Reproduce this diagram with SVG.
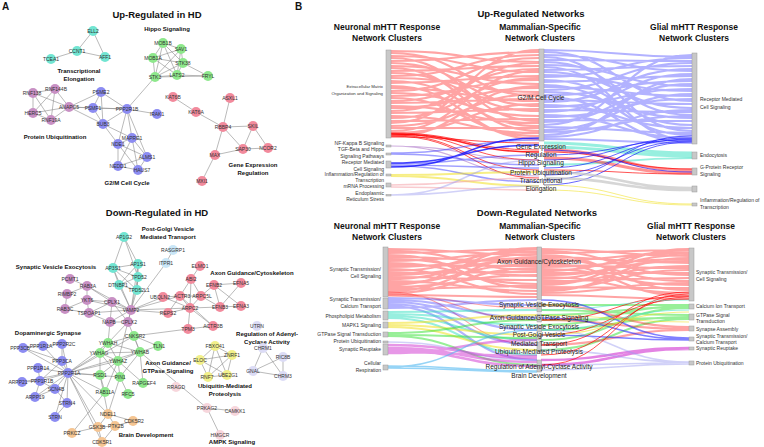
<svg xmlns="http://www.w3.org/2000/svg" width="764" height="447" viewBox="0 0 764 447">
<style>
text{font-family:"Liberation Sans",Arial,sans-serif}
.e{fill:none;stroke:#8c8c8c;stroke-width:.6}
.nl{font-size:5px;fill:#333;text-anchor:middle}
.cl{font-size:6px;font-weight:bold;fill:#111;text-anchor:middle}
.ti{font-size:9.5px;font-weight:bold;fill:#111;text-anchor:middle}
.pl{font-size:10px;font-weight:bold;fill:#111}
.h{font-size:8.5px;font-weight:bold;fill:#111;text-anchor:middle}
.c{fill:#72e5d2}.g{fill:#8ee88c}.p{fill:#c890c4}.b{fill:#8c8cf2}.r{fill:#f28a9c}.o{fill:#f5c592}.y{fill:#f2f08a}.lv{fill:#dcdcf6}.lp{fill:#f7d6dc}.lb{fill:#c9e6f7}
.bar{fill:#c8c8c8;stroke:#9a9a9a;stroke-width:.5}
.sl{font-size:5px;fill:#333;text-anchor:end}
.sr{font-size:5px;fill:#333;text-anchor:start}
.sm{font-size:6.5px;fill:#222;text-anchor:middle}
.fr{fill:none;stroke:#ff1010;stroke-opacity:.38;stroke-width:2.2}
.fb{fill:none;stroke:#2a2aff;stroke-opacity:.36;stroke-width:2.2}
.fR{fill:none;stroke:#ff0000;stroke-opacity:.85;stroke-width:.8}
.fB{fill:none;stroke:#1010ff;stroke-opacity:.8;stroke-width:.8}
.fc{fill:none;stroke:#30dfc0;stroke-opacity:.5;stroke-width:2.2}
.fy{fill:none;stroke:#f0e020;stroke-opacity:.55;stroke-width:2}
.fg{fill:none;stroke:#30e030;stroke-opacity:.5;stroke-width:2}
.fm{fill:none;stroke:#d030d0;stroke-opacity:.5;stroke-width:2.4}
.fl{fill:none;stroke:#50b8f0;stroke-opacity:.6;stroke-width:1.6}
.fv{fill:none;stroke:#9a9af0;stroke-opacity:.45;stroke-width:1.6}
.fp{fill:none;stroke:#a060c0;stroke-opacity:.5;stroke-width:1.2}
.fk{fill:none;stroke:#f4a0a8;stroke-opacity:.55;stroke-width:1.6}
.fq{fill:none;stroke:#c8c8c8;stroke-opacity:.75;stroke-width:2.6}
</style>

<text class="pl" x="2" y="10">A</text>
<text class="pl" x="295" y="10">B</text>
<text class="ti" x="157" y="18">Up-Regulated in HD</text>
<text class="ti" x="157" y="216">Down-Regulated in HD</text>

<g id="connectors">
<path class="e" d="M93,31L77,51M93,31L105,57M77,51L105,57M77,51L51,59
M163,43L181,49M163,43L153,58M163,43L183,63M163,43L155,77M163,43L177,75M181,49L153,58M181,49L155,77M181,49L183,63M181,49L177,75M153,58L183,63M153,58L155,77M153,58L177,75M183,63L155,77M183,63L177,75M183,63L208,76M155,77L177,75M177,75L208,76M155,77L208,76M155,77L127,109
M33,93L55,89M33,93L69,107M33,93L33,113M33,93L51,120M55,89L69,107M55,89L33,113M55,89L51,120M69,107L33,113M69,107L51,120M33,113L51,120
M69,107L101,92M69,107L93,108M69,107L103,124M69,107L127,109
M101,92L93,108M101,92L103,124M101,92L127,109M93,108L103,124M93,108L127,109M103,124L127,109
M127,109L157,114M127,109L132,138M127,109L118,144M127,109L147,157M103,124L132,138M103,124L118,144
M132,138L118,144M132,138L147,157M132,138L118,166M132,138L138,170M118,144L147,157M118,144L118,166M118,144L138,170M147,157L118,166M147,157L138,170M118,166L138,170
M173,97L196,112M196,112L223,127M230,98L223,127M223,127L253,126M223,127L243,149M223,127L215,155M253,126L243,149M253,126L268,148M243,149L268,148M215,155L243,149M215,155L202,181"/>
<path class="e" d="M124,237L113,268M124,237L138,264M124,237L138,277
M113,268L138,264M113,268L138,277M113,268L119,285M113,268L137,290M138,264L138,277M138,264L119,285M138,264L137,290M138,277L119,285M138,277L137,290M119,285L137,290M113,268L131,310M138,277L131,310M137,290L131,310M119,285L131,310M138,264L131,310
M173,250L166,263M166,263L131,310
M70,279L87,286M67,294L87,286M87,286L87,300M87,286L112,302M67,294L65,309M65,309L89,313M65,309L87,300M87,300L89,313M87,300L112,302M89,313L112,302M112,302L131,310M89,313L131,310M87,286L131,310M87,300L131,310M110,322L131,310M128,322L131,310M112,302L128,322M110,322L128,322M112,302L110,322M89,313L110,322
M131,310L163,297M131,310L180,296M131,310L168,313M131,310L190,308
M200,266L191,279M191,279L180,296M191,279L201,296M191,279L190,308M180,296L201,296M180,296L190,308M201,296L190,308M201,296L214,285M214,285L241,283M214,285L241,306M214,285L220,307M220,307L241,283M220,307L241,306M190,308L220,307M201,296L220,307M163,297L180,296M168,313L180,296M168,313L190,308M163,297L190,308M190,308L188,329M190,308L213,326M188,329L213,326M180,296L213,326
M134,336L188,329
M68,373L23,348M68,373L43,346M68,373L62,344M68,373L62,361M68,373L38,368M68,373L22,382M68,373L40,381M68,373L55,389M68,373L67,403M68,373L55,417M68,373L35,397
M23,348L43,346M43,346L62,344M23,348L62,361M62,344L62,361M38,368L40,381M22,382L40,381M40,381L55,389M55,389L35,397M40,381L35,397M55,389L67,403M67,403L55,417M62,361L40,381
M68,373L108,343M68,373L100,353M68,373L118,361M68,373L140,352M68,373L134,336M68,373L100,375M68,373L120,377M68,373L105,392M68,373L98,427M68,373L102,442M68,373L108,414
M110,322L108,343M128,322L108,343M128,322L140,352M131,310L118,361
M108,343L100,353M108,343L118,361M108,343L140,352M108,343L134,336M100,353L118,361M100,353L140,352M118,361L140,352M134,336L140,352M140,352L158,346M134,336L158,346M100,353L100,375M118,361L120,377M140,352L120,377M100,375L105,392M118,361L105,392M120,377L128,394M140,352L143,383M118,361L143,383M100,353L120,377M118,361L100,375
M100,375L108,414M120,377L108,414M105,392L72,433
M108,414L98,427M108,414L115,426M108,414L133,421M98,427L115,426M98,427L102,442M72,433L98,427M115,426L133,421M115,426L102,442
M140,352L207,408M207,408L235,411M207,408L220,435
M215,346L232,355M215,346L200,360M215,346L227,375M215,346L208,377M232,355L200,360M232,355L227,375M232,355L208,377M200,360L227,375M200,360L208,377M227,375L208,377
M263,348L253,371M263,348L283,376M253,371L283,376M283,357L283,376M283,357L253,371"/>
</g>

<g id="up-clusters">
<text class="cl" x="79" y="73">Transcriptional</text>
<text class="cl" x="79" y="81">Elongation</text>
<text class="cl" x="167" y="31">Hippo Signaling</text>
<text class="cl" x="55" y="139">Protein Ubiquitination</text>
<text class="cl" x="127" y="185">G2/M Cell Cycle</text>
<text class="cl" x="253" y="167">Gene Expression</text>
<text class="cl" x="253" y="175">Regulation</text>
</g>
<g id="down-clusters">
<text class="cl" x="168" y="231">Post-Golgi Vesicle</text>
<text class="cl" x="168" y="239">Mediated Transport</text>
<text class="cl" x="56" y="269">Synaptic Vesicle Exocytosis</text>
<text class="cl" x="252" y="275">Axon Guidance/Cytoskeleton</text>
<text class="cl" x="48" y="335">Dopaminergic Synapse</text>
<text class="cl" x="168" y="365">Axon Guidance/</text>
<text class="cl" x="168" y="373">GTPase Signaling</text>
<text class="cl" x="225" y="388">Ubiquitin-Mediated</text>
<text class="cl" x="225" y="396">Proteolysis</text>
<text class="cl" x="267" y="336">Regulation of Adenyl-</text>
<text class="cl" x="267" y="344">Cyclase Activity</text>
<text class="cl" x="146" y="437">Brain Development</text>
<text class="cl" x="232" y="444">AMPK Signaling</text>
</g>

<g id="n-ELL2"><circle class="c" cx="93" cy="31" r="5"/><text class="nl" x="93" y="33">ELL2</text></g>
<g id="n-CCNT1"><circle class="c" cx="77" cy="51" r="5"/><text class="nl" x="77" y="53">CCNT1</text></g>
<g id="n-AFF1"><circle class="c" cx="105" cy="57" r="5"/><text class="nl" x="105" y="59">AFF1</text></g>
<g id="n-TCEA1"><circle class="c" cx="51" cy="59" r="5"/><text class="nl" x="51" y="61">TCEA1</text></g>
<g id="n-MOB1B"><circle class="g" cx="163" cy="43" r="5"/><text class="nl" x="163" y="45">MOB1B</text></g>
<g id="n-SAV1"><circle class="g" cx="181" cy="49" r="5"/><text class="nl" x="181" y="51">SAV1</text></g>
<g id="n-MOB1A"><circle class="g" cx="153" cy="58" r="5"/><text class="nl" x="153" y="60">MOB1A</text></g>
<g id="n-STK38"><circle class="g" cx="183" cy="63" r="5"/><text class="nl" x="183" y="65">STK38</text></g>
<g id="n-LATS2"><circle class="g" cx="177" cy="75" r="5"/><text class="nl" x="177" y="77">LATS2</text></g>
<g id="n-STK3"><circle class="g" cx="155" cy="77" r="5"/><text class="nl" x="155" y="79">STK3</text></g>
<g id="n-FRYL"><circle class="g" cx="208" cy="76" r="5"/><text class="nl" x="208" y="78">FRYL</text></g>
<g id="n-RNF138"><circle class="p" cx="33" cy="93" r="5"/><text class="nl" x="32" y="95">RNF138</text></g>
<g id="n-RNF144B"><circle class="p" cx="55" cy="89" r="5"/><text class="nl" x="56" y="91">RNF144B</text></g>
<g id="n-ANAPC5"><circle class="p" cx="69" cy="107" r="5"/><text class="nl" x="69" y="109">ANAPC5</text></g>
<g id="n-HERC5"><circle class="p" cx="33" cy="113" r="5"/><text class="nl" x="33" y="115">HERC5</text></g>
<g id="n-RNF19A"><circle class="p" cx="51" cy="120" r="5"/><text class="nl" x="51" y="122">RNF19A</text></g>
<g id="n-PSME2"><circle class="b" cx="101" cy="92" r="5"/><text class="nl" x="101" y="94">PSME2</text></g>
<g id="n-PSMF1"><circle class="b" cx="93" cy="108" r="5"/><text class="nl" x="93" y="110">PSMF1</text></g>
<g id="n-PPP2R1B"><circle class="b" cx="127" cy="109" r="5"/><text class="nl" x="127" y="111">PPP2R1B</text></g>
<g id="n-BUB3"><circle class="b" cx="103" cy="124" r="5"/><text class="nl" x="103" y="126">BUB3</text></g>
<g id="n-IRAK1"><circle class="b" cx="157" cy="114" r="5"/><text class="nl" x="157" y="116">IRAK1</text></g>
<g id="n-MAPRE1"><circle class="b" cx="132" cy="138" r="5"/><text class="nl" x="132" y="140">MAPRE1</text></g>
<g id="n-NDE1"><circle class="b" cx="118" cy="144" r="5"/><text class="nl" x="118" y="146">NDE1</text></g>
<g id="n-ALMS1"><circle class="b" cx="147" cy="157" r="5"/><text class="nl" x="147" y="159">ALMS1</text></g>
<g id="n-NEDD1"><circle class="b" cx="118" cy="166" r="5"/><text class="nl" x="118" y="168">NEDD1</text></g>
<g id="n-HAUS7"><circle class="b" cx="138" cy="170" r="5"/><text class="nl" x="142" y="172">HAUS7</text></g>
<g id="n-KAT6B"><circle class="r" cx="173" cy="97" r="5"/><text class="nl" x="173" y="99">KAT6B</text></g>
<g id="n-KAT6A"><circle class="r" cx="196" cy="112" r="5"/><text class="nl" x="196" y="114">KAT6A</text></g>
<g id="n-ASXL1"><circle class="r" cx="230" cy="98" r="5"/><text class="nl" x="230" y="100">ASXL1</text></g>
<g id="n-RBBP4"><circle class="r" cx="223" cy="127" r="5"/><text class="nl" x="223" y="129">RBBP4</text></g>
<g id="n-SKIL"><circle class="r" cx="253" cy="126" r="5"/><text class="nl" x="253" y="128">SKIL</text></g>
<g id="n-SAP30"><circle class="r" cx="243" cy="149" r="5"/><text class="nl" x="243" y="151">SAP30</text></g>
<g id="n-NCOR2"><circle class="r" cx="268" cy="148" r="5"/><text class="nl" x="268" y="150">NCOR2</text></g>
<g id="n-MAX"><circle class="r" cx="215" cy="155" r="5"/><text class="nl" x="215" y="157">MAX</text></g>
<g id="n-MXI1"><circle class="r" cx="202" cy="181" r="5"/><text class="nl" x="202" y="183">MXI1</text></g>

<g id="n-AP1G2"><circle class="c" cx="124" cy="237" r="5"/><text class="nl" x="124" y="239">AP1G2</text></g>
<g id="n-AP3S1"><circle class="c" cx="113" cy="268" r="5"/><text class="nl" x="113" y="270">AP3S1</text></g>
<g id="n-AP1S1"><circle class="c" cx="138" cy="264" r="5"/><text class="nl" x="138" y="266">AP1S1</text></g>
<g id="n-TPD52"><circle class="c" cx="138" cy="277" r="5"/><text class="nl" x="139" y="279">TPD52</text></g>
<g id="n-DTNBP1"><circle class="c" cx="119" cy="285" r="5"/><text class="nl" x="118" y="287">DTNBP1</text></g>
<g id="n-TPD52L1"><circle class="c" cx="137" cy="290" r="5"/><text class="nl" x="139" y="292">TPD52L1</text></g>
<g id="n-RASGRP1"><circle class="lb" cx="173" cy="250" r="5"/><text class="nl" x="173" y="252">RASGRP1</text></g>
<g id="n-ITPR1"><circle class="lb" cx="166" cy="263" r="5"/><text class="nl" x="166" y="265">ITPR1</text></g>
<g id="n-PCMT1"><circle class="p" cx="70" cy="279" r="5"/><text class="nl" x="70" y="281">PCMT1</text></g>
<g id="n-RAB3A"><circle class="p" cx="87" cy="286" r="5"/><text class="nl" x="88" y="288">RAB3A</text></g>
<g id="n-RIMBP2"><circle class="p" cx="67" cy="294" r="5"/><text class="nl" x="67" y="296">RIMBP2</text></g>
<g id="n-YKT6"><circle class="p" cx="87" cy="300" r="5"/><text class="nl" x="87" y="302">YKT6</text></g>
<g id="n-CPLX1"><circle class="p" cx="112" cy="302" r="5"/><text class="nl" x="112" y="304">CPLX1</text></g>
<g id="n-RAB3C"><circle class="p" cx="65" cy="309" r="5"/><text class="nl" x="65" y="311">RAB3C</text></g>
<g id="n-TSPOAP1"><circle class="p" cx="89" cy="313" r="5"/><text class="nl" x="89" y="315">TSPOAP1</text></g>
<g id="n-VAMP2"><circle class="p" cx="131" cy="310" r="5"/><text class="nl" x="131" y="312">VAMP2</text></g>
<g id="n-NAPB"><circle class="p" cx="110" cy="322" r="5"/><text class="nl" x="109" y="324">NAPB</text></g>
<g id="n-CPLX2"><circle class="p" cx="128" cy="322" r="5"/><text class="nl" x="129" y="324">CPLX2</text></g>
<g id="n-ELMO1"><circle class="r" cx="200" cy="266" r="5"/><text class="nl" x="200" y="268">ELMO1</text></g>
<g id="n-ABI2"><circle class="r" cx="191" cy="279" r="5"/><text class="nl" x="191" y="281">ABI2</text></g>
<g id="n-EFNB2"><circle class="r" cx="214" cy="285" r="5"/><text class="nl" x="214" y="287">EFNB2</text></g>
<g id="n-EFNA5"><circle class="r" cx="241" cy="283" r="5"/><text class="nl" x="241" y="285">EFNA5</text></g>
<g id="n-ACTR3"><circle class="r" cx="180" cy="296" r="5"/><text class="nl" x="182" y="298">ACTR3</text></g>
<g id="n-ARPC5L"><circle class="r" cx="201" cy="296" r="5"/><text class="nl" x="202" y="298">ARPC5L</text></g>
<g id="n-UBQLN2"><circle class="r" cx="163" cy="297" r="5"/><text class="nl" x="160" y="299">UBQLN2</text></g>
<g id="n-EFNB3"><circle class="r" cx="220" cy="307" r="5"/><text class="nl" x="220" y="309">EFNB3</text></g>
<g id="n-EFNA3"><circle class="r" cx="241" cy="306" r="5"/><text class="nl" x="241" y="308">EFNA3</text></g>
<g id="n-ARPC2"><circle class="r" cx="190" cy="308" r="5"/><text class="nl" x="190" y="310">ARPC2</text></g>
<g id="n-REPS2"><circle class="r" cx="168" cy="313" r="5"/><text class="nl" x="168" y="315">REPS2</text></g>
<g id="n-TPM3"><circle class="r" cx="188" cy="329" r="5"/><text class="nl" x="188" y="331">TPM3</text></g>
<g id="n-ACTR3B"><circle class="r" cx="213" cy="326" r="5"/><text class="nl" x="213" y="328">ACTR3B</text></g>
<g id="n-PPP3CB"><circle class="b" cx="23" cy="348" r="5"/><text class="nl" x="20" y="350">PPP3CB</text></g>
<g id="n-PPP1R1A"><circle class="b" cx="43" cy="346" r="5"/><text class="nl" x="41" y="348">PPP1R1A</text></g>
<g id="n-PPP2R2C"><circle class="b" cx="62" cy="344" r="5"/><text class="nl" x="64" y="346">PPP2R2C</text></g>
<g id="n-PPP3CA"><circle class="b" cx="62" cy="361" r="5"/><text class="nl" x="62" y="363">PPP3CA</text></g>
<g id="n-PPP1R14"><circle class="b" cx="38" cy="368" r="5"/><text class="nl" x="38" y="370">PPP1R14</text></g>
<g id="n-PPP2R1A"><circle class="b" cx="68" cy="373" r="5"/><text class="nl" x="69" y="375">PPP2R1A</text></g>
<g id="n-ARPP21"><circle class="b" cx="22" cy="382" r="5"/><text class="nl" x="18" y="384">ARPP21</text></g>
<g id="n-PPP1R1B"><circle class="b" cx="40" cy="381" r="5"/><text class="nl" x="42" y="383">PPP1R1B</text></g>
<g id="n-SCN4B"><circle class="b" cx="55" cy="389" r="5"/><text class="nl" x="56" y="391">SCN4B</text></g>
<g id="n-ARPP19"><circle class="b" cx="35" cy="397" r="5"/><text class="nl" x="35" y="399">ARPP19</text></g>
<g id="n-STRN4"><circle class="b" cx="67" cy="403" r="5"/><text class="nl" x="67" y="405">STRN4</text></g>
<g id="n-STRN"><circle class="b" cx="55" cy="417" r="5"/><text class="nl" x="55" y="419">STRN</text></g>
<g id="n-YWHAH"><circle class="g" cx="108" cy="343" r="5"/><text class="nl" x="108" y="345">YWHAH</text></g>
<g id="n-CNKSR2"><circle class="g" cx="134" cy="336" r="5"/><text class="nl" x="135" y="338">CNKSR2</text></g>
<g id="n-YWHAG"><circle class="g" cx="100" cy="353" r="5"/><text class="nl" x="99" y="355">YWHAG</text></g>
<g id="n-YWHAZ"><circle class="g" cx="118" cy="361" r="5"/><text class="nl" x="118" y="363">YWHAZ</text></g>
<g id="n-YWHAB"><circle class="g" cx="140" cy="352" r="5"/><text class="nl" x="140" y="354">YWHAB</text></g>
<g id="n-TLN1"><circle class="g" cx="158" cy="346" r="5"/><text class="nl" x="159" y="348">TLN1</text></g>
<g id="n-RSD1"><circle class="g" cx="100" cy="375" r="5"/><text class="nl" x="100" y="377">RSD1</text></g>
<g id="n-PIN1"><circle class="g" cx="120" cy="377" r="5"/><text class="nl" x="120" y="379">PIN1</text></g>
<g id="n-RAB11A"><circle class="g" cx="105" cy="392" r="5"/><text class="nl" x="105" y="394">RAB11A</text></g>
<g id="n-RFC5"><circle class="g" cx="128" cy="394" r="5"/><text class="nl" x="128" y="396">RFC5</text></g>
<g id="n-RAPGEF4"><circle class="g" cx="143" cy="383" r="5"/><text class="nl" x="144" y="385">RAPGEF4</text></g>
<g id="n-NDEL1"><circle class="o" cx="108" cy="414" r="5"/><text class="nl" x="108" y="416">NDEL1</text></g>
<g id="n-CDK5R2"><circle class="o" cx="133" cy="421" r="5"/><text class="nl" x="134" y="423">CDK5R2</text></g>
<g id="n-GSK3B"><circle class="o" cx="98" cy="427" r="5"/><text class="nl" x="97" y="429">GSK3B</text></g>
<g id="n-PTK2B"><circle class="o" cx="115" cy="426" r="5"/><text class="nl" x="116" y="428">PTK2B</text></g>
<g id="n-PRKCZ"><circle class="o" cx="72" cy="433" r="5"/><text class="nl" x="72" y="435">PRKCZ</text></g>
<g id="n-CDK5R1"><circle class="o" cx="102" cy="442" r="5"/><text class="nl" x="102" y="444">CDK5R1</text></g>
<g id="n-FBXO41"><circle class="y" cx="215" cy="346" r="5"/><text class="nl" x="215" y="348">FBXO41</text></g>
<g id="n-ZNRF1"><circle class="y" cx="232" cy="355" r="5"/><text class="nl" x="232" y="357">ZNRF1</text></g>
<g id="n-ELOC"><circle class="y" cx="200" cy="360" r="5"/><text class="nl" x="200" y="362">ELOC</text></g>
<g id="n-UBE2G1"><circle class="y" cx="227" cy="375" r="5"/><text class="nl" x="228" y="377">UBE2G1</text></g>
<g id="n-RNF7"><circle class="y" cx="208" cy="377" r="5"/><text class="nl" x="207" y="379">RNF7</text></g>
<g id="n-UTRN"><circle class="lv" cx="257" cy="326" r="5"/><text class="nl" x="257" y="328">UTRN</text></g>
<g id="n-CHRM1"><circle class="lv" cx="263" cy="348" r="5"/><text class="nl" x="263" y="350">CHRM1</text></g>
<g id="n-RIC8B"><circle class="lv" cx="283" cy="357" r="5"/><text class="nl" x="283" y="359">RIC8B</text></g>
<g id="n-GNAL"><circle class="lv" cx="253" cy="371" r="5"/><text class="nl" x="253" y="373">GNAL</text></g>
<g id="n-CHRM3"><circle class="lv" cx="283" cy="376" r="5"/><text class="nl" x="283" y="378">CHRM3</text></g>
<g id="n-RRAGD"><circle class="lp" cx="176" cy="387" r="5"/><text class="nl" x="176" y="389">RRAGD</text></g>
<g id="n-PRKAG2"><circle class="lp" cx="207" cy="408" r="5"/><text class="nl" x="207" y="410">PRKAG2</text></g>
<g id="n-CAMKK1"><circle class="lp" cx="235" cy="411" r="5"/><text class="nl" x="235" y="413">CAMKK1</text></g>
<g id="n-HMGCR"><circle class="lp" cx="220" cy="435" r="5"/><text class="nl" x="220" y="437">HMGCR</text></g>

<!-- Panel B -->
<text class="ti" x="531" y="17">Up-Regulated Networks</text>
<text class="h" x="387" y="30">Neuronal mHTT Response</text>
<text class="h" x="387" y="41">Network Clusters</text>
<text class="h" x="540" y="30">Mammalian-Specific</text>
<text class="h" x="540" y="41">Network Clusters</text>
<text class="h" x="694" y="30">Glial mHTT Response</text>
<text class="h" x="694" y="41">Network Clusters</text>

<g id="sankey-up-flows">
<path class="fr" d="M391,51C465,51 465,62 539,62M391,53C465,53 465,96 539,96M391,56C465,56 465,72 539,72M391,58C465,58 465,121 539,121M391,61C465,61 465,52 539,52M391,63C465,63 465,106 539,106M391,66C465,66 465,84 539,84M391,68C465,68 465,131 539,131M391,71C465,71 465,66 539,66M391,73C465,73 465,111 539,111M391,76C465,76 465,55 539,55M391,78C465,78 465,92 539,92M391,81C465,81 465,126 539,126M391,83C465,83 465,76 539,76M391,86C465,86 465,139 539,139M391,88C465,88 465,101 539,101M391,91C465,91 465,58 539,58M391,93C465,93 465,116 539,116M391,96C465,96 465,80 539,80M391,98C465,98 465,136 539,136M391,101C465,101 465,69 539,69M391,103C465,103 465,99 539,99M391,106C465,106 465,123 539,123M391,108C465,108 465,88 539,88M391,111C465,111 465,63 539,63M391,113C465,113 465,109 539,109M391,116C465,116 465,133 539,133M391,118C465,118 465,78 539,78M391,121C465,121 465,119 539,119M391,123C465,123 465,50 539,50M391,126C465,126 465,94 539,94M391,128C465,128 465,128 539,128M391,131C465,131 465,71 539,71M391,133C465,133 465,104 539,104M391,136C465,136 465,86 539,86"/>
<path class="fb" d="M544,50C618,50 618,57 692,57M544,52C618,52 618,101 692,101M544,55C618,55 618,71 692,71M544,57C618,57 618,131 692,131M544,60C618,60 618,61 692,61M544,62C618,62 618,115 692,115M544,65C618,65 618,86 692,86M544,67C618,67 618,140 692,140M544,70C618,70 618,66 692,66M544,72C618,72 618,108 692,108M544,75C618,75 618,91 692,91M544,77C618,77 618,58 692,58M544,80C618,80 618,125 692,125M544,82C618,82 618,76 692,76M544,85C618,85 618,135 692,135M544,87C618,87 618,96 692,96M544,90C618,90 618,63 692,63M544,92C618,92 618,118 692,118M544,95C618,95 618,81 692,81M544,97C618,97 618,142 692,142M544,100C618,100 618,104 692,104M544,102C618,102 618,69 692,69M544,105C618,105 618,128 692,128M544,107C618,107 618,89 692,89M544,110C618,110 618,112 692,112M544,112C618,112 618,74 692,74M544,115C618,115 618,138 692,138M544,117C618,117 618,99 692,99M544,120C618,120 618,121 692,121M544,122C618,122 618,84 692,84M544,125C618,125 618,55 692,55M544,127C618,127 618,133 692,133M544,130C618,130 618,94 692,94M544,132C618,132 618,116 692,116M544,135C618,135 618,79 692,79M544,137C618,137 618,110 692,110M544,139C618,139 618,143 692,143"/>
<path class="fR" d="M391,133C465,133 465,150 539,150M391,135C465,135 465,170 539,170M391,136C470,136 470,178 539,178M391,137C465,137 465,143 539,143M391,134C465,134 465,160 539,160"/>
<path class="fR" style="stroke-width:1.6" d="M391,134C465,134 465,152 539,152"/>
<path class="fp" d="M391,146C465,146 465,160 539,160M391,146C465,146 465,176 539,176"/>
<path class="fb" style="stroke-width:1.5;stroke-opacity:.45" d="M391,153C465,153 465,140 539,140M391,154C465,154 465,165 539,165M391,164C465,164 465,155 539,155M391,165C465,165 465,168 539,168M391,166C465,166 465,182 539,182"/>
<path class="fB" style="stroke-width:1.6" d="M391,163C465,163 465,145 539,145M391,167C465,167 465,138 539,138"/>
<path class="fy" d="M391,175C465,175 465,172 539,172M391,176C465,176 465,186 539,186"/>
<path class="fk" d="M391,185C465,185 465,178 539,178M391,187C465,187 465,190 539,190"/>
<path class="fv" d="M391,195C465,195 465,186 539,186M391,195C465,195 465,160 539,160"/>
<path class="fc" style="stroke-width:3" d="M544,143C618,143 618,153 692,153M544,147C618,147 618,156 692,156"/>
<path class="fc" d="M544,165C618,165 618,158 692,158"/>
<path class="fr" style="stroke-width:3;stroke-opacity:.45" d="M544,150C618,150 618,170 692,170M544,158C618,158 618,173 692,173"/>
<path class="fR" d="M544,152C618,152 618,169 692,169M544,170C618,170 618,174 692,174"/>
<path class="fB" d="M544,160C618,160 618,138 692,138M544,168C618,168 618,139 692,139M544,175C618,175 618,141 692,141M544,180C618,180 618,136 692,136M544,155C618,155 618,140 692,140M544,185C618,185 618,142 692,142M544,150C618,150 618,172 692,172"/>
<path class="fq" d="M544,172C618,172 618,188 692,188M544,178C618,178 618,190 692,190"/>
<path class="fy" style="stroke-width:1" d="M544,185C618,185 618,204 692,204M544,190C618,190 618,205 692,205"/>
</g>

<g id="sankey-up-nodes">
<rect class="bar" x="386" y="50" width="5" height="88"/>
<rect class="bar" x="386" y="145" width="5" height="2"/>
<rect class="bar" x="386" y="153" width="5" height="2"/>
<rect class="bar" x="386" y="161" width="5" height="7"/>
<rect class="bar" x="386" y="174" width="5" height="2"/>
<rect class="bar" x="386" y="183" width="5" height="4"/>
<rect class="bar" x="386" y="194.5" width="5" height="1.5"/>
<rect class="bar" x="539" y="49" width="5" height="92"/>
<rect class="bar" x="692" y="53" width="5" height="91"/>
<rect class="bar" x="692" y="152" width="5" height="7"/>
<rect class="bar" x="692" y="168" width="5" height="7"/>
<rect class="bar" x="692" y="186" width="5" height="6"/>
<rect class="bar" x="692" y="203" width="5" height="3"/>
<text class="sl" style="font-size:4.3px" x="383" y="88">Extracellular Matrix</text>
<text class="sl" style="font-size:4.3px" x="383" y="94.5">Organization and Signaling</text>
<text class="sl" x="384" y="145">NF-Kappa B Signaling</text>
<text class="sl" x="384" y="151">TGF-Beta and Hippo</text>
<text class="sl" x="384" y="157.5">Signaling Pathways</text>
<text class="sl" x="384" y="164">Receptor Mediated</text>
<text class="sl" x="384" y="170.5">Cell Signaling</text>
<text class="sl" x="384" y="175.5">Inflammation/Regulation of</text>
<text class="sl" x="384" y="181.5">Transcription</text>
<text class="sl" x="384" y="188">mRNA Processing</text>
<text class="sl" x="384" y="194.5">Endoplasmic</text>
<text class="sl" x="384" y="201">Reticulum Stress</text>
<text class="sm" x="541" y="100">G2/M Cell Cycle</text>
<text class="sm" x="541" y="149">Gene Expression</text>
<text class="sm" x="541" y="157">Regulation</text>
<text class="sm" x="541" y="165">Hippo Signaling</text>
<text class="sm" x="541" y="175">Protein Ubiquitination</text>
<text class="sm" x="541" y="182.5">Transcriptional</text>
<text class="sm" x="541" y="191">Elongation</text>
<text class="sr" x="700" y="101">Receptor Mediated</text>
<text class="sr" x="700" y="108.5">Cell Signaling</text>
<text class="sr" x="700" y="157">Endocytosis</text>
<text class="sr" x="700" y="169">G-Protein Receptor</text>
<text class="sr" x="700" y="176">Signaling</text>
<text class="sr" x="700" y="202">Inflammation/Regulation of</text>
<text class="sr" x="700" y="209">Transcription</text>
</g>

<text class="ti" x="537" y="216">Down-Regulated Networks</text>
<text class="h" x="387" y="229">Neuronal mHTT Response</text>
<text class="h" x="387" y="240">Network Clusters</text>
<text class="h" x="540" y="229">Mammalian-Specific</text>
<text class="h" x="540" y="240">Network Clusters</text>
<text class="h" x="691" y="229">Glial mHTT Response</text>
<text class="h" x="691" y="240">Network Clusters</text>

<g id="sankey-down-flows">
<path class="fr" d="M388,249C462,249 462,255 537,255M388,251C462,251 462,270 537,270M388,253C462,253 462,249 537,249M388,255C462,255 462,288 537,288M388,257C462,257 462,262 537,262M388,259C462,259 462,276 537,276M388,261C462,261 462,252 537,252M388,263C462,263 462,284 537,284M388,265C462,265 462,266 537,266M388,267C462,267 462,258 537,258M388,269C462,269 462,294 537,294M388,271C462,271 462,250 537,250M388,273C462,273 462,272 537,272M388,275C462,275 462,260 537,260M388,277C462,277 462,280 537,280M388,279C462,279 462,254 537,254M388,281C462,281 462,291 537,291M388,283C462,283 462,264 537,264M388,285C462,285 462,248 537,248M388,287C462,287 462,275 537,275M388,289C462,289 462,286 537,286M388,291C462,291 462,257 537,257M388,293C462,293 462,268 537,268M388,295C462,295 462,297 537,297"/>
<path class="fr" d="M541,249C615,249 615,256 689,256M541,251C615,251 615,275 689,275M541,253C615,253 615,250 689,250M541,255C615,255 615,290 689,290M541,257C615,257 615,263 689,263M541,259C615,259 615,281 689,281M541,261C615,261 615,253 689,253M541,263C615,263 615,296 689,296M541,265C615,265 615,268 689,268M541,267C615,267 615,259 689,259M541,269C615,269 615,285 689,285M541,271C615,271 615,251 689,251M541,273C615,273 615,273 689,273M541,275C615,275 615,261 689,261M541,277C615,277 615,293 689,293M541,279C615,279 615,255 689,255M541,281C615,281 615,278 689,278M541,283C615,283 615,266 689,266M541,285C615,285 615,249 689,249M541,287C615,287 615,288 689,288M541,289C615,289 615,270 689,270M541,291C615,291 615,258 689,258M541,293C615,293 615,283 689,283M541,295C615,295 615,299 689,299"/>
<path class="fr" style="stroke-width:1.2" d="M388,294C462,294 462,320 537,320M388,292C462,292 462,345 537,345M388,296C462,296 462,308 537,308"/>
<path class="fb" d="M388,298C462,298 462,305 537,305M388,300C462,300 462,318 537,318M388,302C462,302 462,330 537,330M388,304C462,304 462,345 537,345M388,306C462,306 462,360 537,360M388,308C462,308 462,300 537,300"/>
<path class="fc" d="M388,312C462,312 462,310 537,310M388,314C462,314 462,325 537,325M388,316C462,316 462,340 537,340M388,318C462,318 462,355 537,355"/>
<path class="fy" d="M388,323C462,323 462,315 537,315M388,325C462,325 462,335 537,335M388,327C462,327 462,350 537,350"/>
<path class="fg" d="M388,333C462,333 462,320 537,320M388,335C462,335 462,338 537,338M388,336C462,336 462,365 537,365"/>
<path class="fv" d="M388,342C462,342 462,360 537,360"/>
<path class="fm" d="M388,345C462,345 462,358 537,358M388,348C462,348 462,362 537,362M388,350C462,350 462,366 537,366M388,352C462,352 462,356 537,356M388,353C462,353 462,340 537,340"/>
<path class="fl" d="M388,366C462,366 462,371 537,371M388,368C462,368 462,372 537,372M388,367C462,367 462,330 537,330"/>
<path class="fg" d="M541,305C615,305 615,305 689,305M541,315C615,315 615,307 689,307M541,325C615,325 615,306 689,306M541,340C615,340 615,308 689,308M541,310C615,310 615,315 689,315M541,330C615,330 615,317 689,317M541,350C615,350 615,319 689,319M541,320C615,320 615,318 689,318"/>
<path class="fr" d="M541,305C615,305 615,327 689,327M541,320C615,320 615,329 689,329M541,345C615,345 615,330 689,330"/>
<path class="fb" style="stroke-width:1.5;stroke-opacity:.6" d="M541,300C615,300 615,338 689,338M541,318C615,318 615,339 689,339M541,335C615,335 615,340 689,340"/>
<path class="fm" style="stroke-opacity:.6" d="M541,360C615,360 615,348 689,348M541,365C615,365 615,349 689,349"/>
<path class="fv" d="M541,350C615,350 615,362 689,362M541,365C615,365 615,363 689,363M541,370C615,370 615,364 689,364M541,330C615,330 615,362 689,362"/>
<path class="fR" d="M541,320C615,320 615,296 689,296M541,335C615,335 615,299 689,299M541,345C615,345 615,292 689,292M541,355C615,355 615,297 689,297M541,365C615,365 615,294 689,294"/>
<path class="fc" style="stroke-width:1.2" d="M541,310C615,310 615,300 689,300M541,330C615,330 615,310 689,310"/>
<path class="fy" style="stroke-width:1.2" d="M541,315C615,315 615,322 689,322M541,335C615,335 615,312 689,312"/>
</g>

<g id="sankey-down-nodes">
<rect class="bar" x="383" y="247" width="5" height="50"/>
<rect class="bar" x="383" y="298" width="5" height="11"/>
<rect class="bar" x="383" y="311" width="5" height="9"/>
<rect class="bar" x="383" y="322" width="5" height="6"/>
<rect class="bar" x="383" y="332" width="5" height="5"/>
<rect class="bar" x="383" y="341" width="5" height="2"/>
<rect class="bar" x="383" y="344" width="5" height="11"/>
<rect class="bar" x="383" y="365" width="5" height="5"/>
<rect class="bar" x="537" y="247" width="4.5" height="53"/>
<rect class="bar" x="537" y="302" width="4.5" height="10"/>
<rect class="bar" x="537" y="314" width="4.5" height="8"/>
<rect class="bar" x="537" y="325" width="4.5" height="7"/>
<rect class="bar" x="537" y="335" width="4.5" height="5"/>
<rect class="bar" x="537" y="342" width="4.5" height="10"/>
<rect class="bar" x="537" y="360" width="4.5" height="12"/>
<rect class="bar" x="689" y="248" width="5" height="53"/>
<rect class="bar" x="689" y="304" width="5" height="5"/>
<rect class="bar" x="689" y="314" width="5" height="6"/>
<rect class="bar" x="689" y="326" width="5" height="5"/>
<rect class="bar" x="689" y="337" width="5" height="4"/>
<rect class="bar" x="689" y="347" width="5" height="3"/>
<rect class="bar" x="689" y="361" width="5" height="4"/>
<text class="sl" x="381" y="271">Synaptic Transmission/</text>
<text class="sl" x="381" y="278">Cell Signaling</text>
<text class="sl" x="381" y="300.5">Synaptic Transmission/</text>
<text class="sl" x="381" y="307.5">Calcium Transport</text>
<text class="sl" x="381" y="318">Phospholipid Metabolism</text>
<text class="sl" x="381" y="326.5">MAPK1 Signaling</text>
<text class="sl" x="381" y="336">GTPase Signal Transduction</text>
<text class="sl" x="381" y="343">Protein Ubiquitination</text>
<text class="sl" x="381" y="351">Synaptic Reuptake</text>
<text class="sl" x="381" y="365">Cellular</text>
<text class="sl" x="381" y="372">Respiration</text>
<text class="sm" x="539" y="264">Axon Guidance/Cytoskeleton</text>
<text class="sm" x="539" y="307">Synaptic Vesicle Exocytosis</text>
<text class="sm" x="539" y="319.5">Axon Guidance/GTPase Signaling</text>
<text class="sm" x="539" y="329">Synaptic Vesicle Exocytosis</text>
<text class="sm" x="539" y="337">Post-Golgi Vesicle</text>
<text class="sm" x="539" y="345.5">Mediated Transport</text>
<text class="sm" x="539" y="354">Ubiquitin-Mediated Proteolysis</text>
<text class="sm" x="539" y="369">Regulation of Adenyl-Cyclase Activity</text>
<text class="sm" x="539" y="378">Brain Development</text>
<text class="sr" x="696" y="274">Synaptic Transmission/</text>
<text class="sr" x="696" y="280.5">Cell Signaling</text>
<text class="sr" x="696" y="308">Calcium Ion Transport</text>
<text class="sr" x="696" y="317">GTPase Signal</text>
<text class="sr" x="696" y="323">Transduction</text>
<text class="sr" x="696" y="331">Synapse Assembly</text>
<text class="sr" x="696" y="338">Synaptic Transmission/</text>
<text class="sr" x="696" y="344">Calcium Transport</text>
<text class="sr" x="696" y="350">Synaptic Reuptake</text>
<text class="sr" x="696" y="365">Protein Ubiquitination</text>
</g>
</svg>
